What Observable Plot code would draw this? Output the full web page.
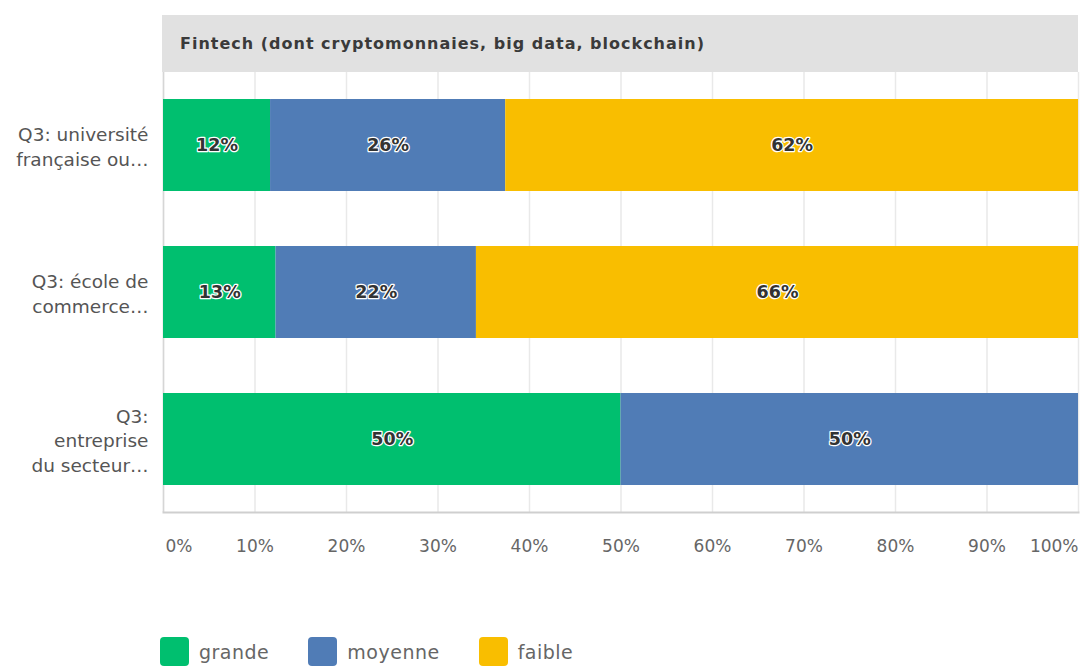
<!DOCTYPE html>
<html>
<head>
<meta charset="utf-8">
<script src="https://cdn.jsdelivr.net/npm/d3@7"></script>
<script src="https://cdn.jsdelivr.net/npm/@observablehq/plot@0.6"></script>
<style>
  html, body { margin: 0; padding: 0; background: #fff; }
  body { width: 1082px; height: 666px; position: relative; overflow: hidden; font-family: "DejaVu Sans", sans-serif; }
  #header { position: absolute; left: 162px; top: 15px; width: 916px; height: 57px; background: #e1e1e1;
            font-weight: 700; font-size: 16px; letter-spacing: 1px; color: #3a3a3a; line-height: 57px; padding-left: 18px; box-sizing: border-box; }
  #chart { position: absolute; left: 0; top: 72px; }
  #legend { position: absolute; left: 160px; top: 637px; display: flex; align-items: center; }
  .item { display: flex; align-items: center; margin-right: 39px; }
  .sw { width: 29px; height: 29px; border-radius: 4px; margin-right: 10px; }
  .lab { font-size: 19px; color: #666; letter-spacing: 0.5px; }
</style>
</head>
<body>
<div id="header"></div>
<div id="chart"></div>
<div id="legend"></div>
<script>
const title = "Fintech (dont cryptomonnaies, big data, blockchain)";
const categories = ["Q3: université\nfrançaise ou…", "Q3: école de\ncommerce…", "Q3:\nentreprise\ndu secteur…"];
const levels = ["grande", "moyenne", "faible"];
const colors = ["#00bf6f", "#507cb6", "#f9be00"];
const grande = [11.7, 12.3, 50];
const moyenne = [25.7, 21.9, 50];
const faible = [62.6, 65.8, 0];
const grandeLabels = ["12%", "13%", "50%"];
const moyenneLabels = ["26%", "22%", "50%"];
const faibleLabels = ["62%", "66%", ""];
const xTicks = [0, 10, 20, 30, 40, 50, 60, 70, 80, 90, 100];

document.getElementById("header").textContent = title;

const series = [grande, moyenne, faible];
const seriesLabels = [grandeLabels, moyenneLabels, faibleLabels];
const data = [];
categories.forEach((c, i) => {
  levels.forEach((l, j) => {
    data.push({cat: c, level: l, value: series[j][i], label: seriesLabels[j][i]});
  });
});

const font = "DejaVu Sans, sans-serif";
const tickStyle = {frameAnchor: "bottom", dy: 39, fontSize: 17, fill: "#666", letterSpacing: "1px"};
const chart = Plot.plot({
  width: 1082,
  height: 500,
  marginTop: 0,
  marginBottom: 60,
  marginLeft: 163,
  marginRight: 4,
  style: {fontFamily: font, background: "transparent"},
  x: {domain: [0, 100], axis: null},
  y: {domain: categories, axis: null, paddingInner: 0.374, paddingOuter: 0.1835},
  color: {domain: levels, range: colors},
  marks: [
    Plot.ruleX(xTicks, {x: d => d, stroke: "#e9e9e9", strokeWidth: 1.5}),
    Plot.ruleX([0], {stroke: "#d6d6d6", strokeWidth: 1.5}),
    Plot.barX(data, Plot.stackX({x: "value", y: "cat", fill: "level", order: levels})),
    Plot.text(data, Plot.stackX({
      x: "value", y: "cat", z: "level", order: levels, text: "label",
      filter: d => d.value > 0,
      fill: "#333", stroke: "white", strokeWidth: 2.5, paintOrder: "stroke",
      fontSize: 17.5, fontWeight: 700
    })),
    Plot.frame({anchor: "bottom", stroke: "#cfcfcf", strokeWidth: 2}),
    Plot.text(categories, {
      y: d => d, text: d => d, frameAnchor: "left", textAnchor: "end", dx: -15,
      fontSize: 18.5, fill: "#555", lineHeight: 1.33, letterSpacing: "1.2px"
    }),
    Plot.text(xTicks.filter(d => d === 0), {x: d => d, text: d => d + "%", textAnchor: "start", dx: 2, ...tickStyle}),
    Plot.text(xTicks.filter(d => d > 0 && d < 100), {x: d => d, text: d => d + "%", textAnchor: "middle", ...tickStyle}),
    Plot.text(xTicks.filter(d => d === 100), {x: d => d, text: d => d + "%", textAnchor: "end", ...tickStyle})
  ]
});
document.getElementById("chart").appendChild(chart);

const legend = document.getElementById("legend");
levels.forEach((l, j) => {
  const item = document.createElement("div");
  item.className = "item";
  const sw = document.createElement("div");
  sw.className = "sw";
  sw.style.background = colors[j];
  const lab = document.createElement("span");
  lab.className = "lab";
  lab.textContent = l;
  item.appendChild(sw);
  item.appendChild(lab);
  legend.appendChild(item);
});
</script>
</body>
</html>
